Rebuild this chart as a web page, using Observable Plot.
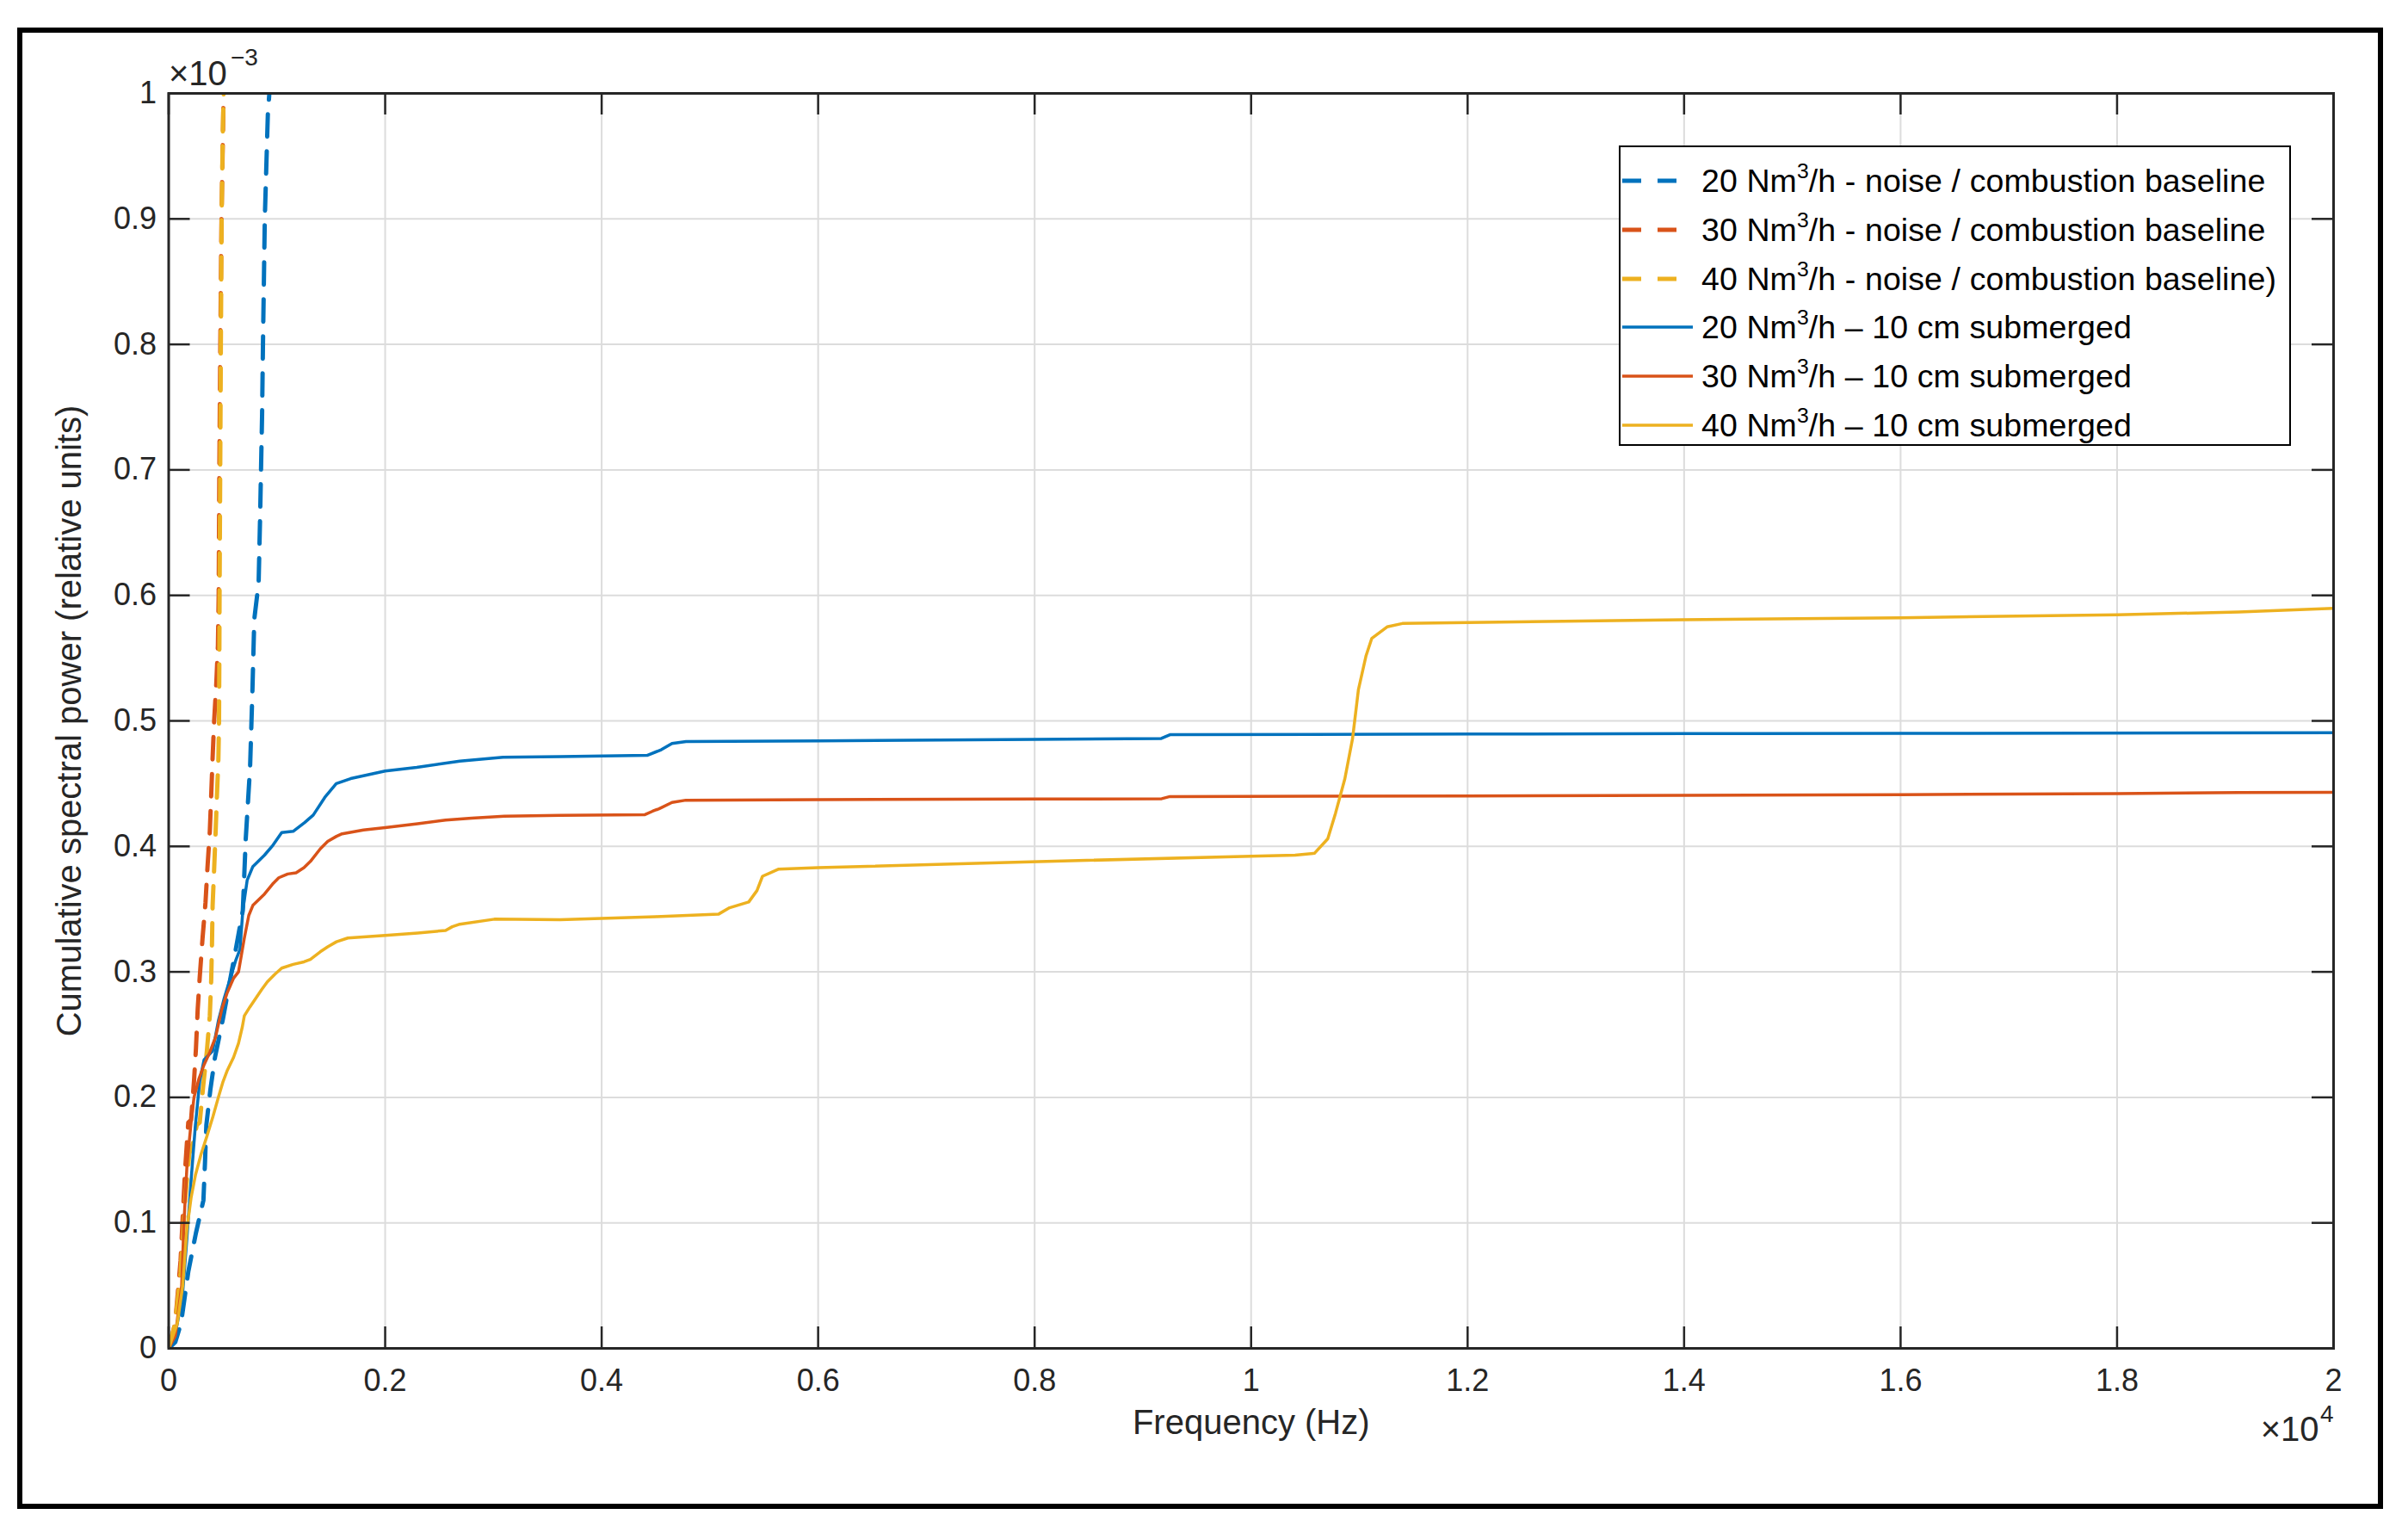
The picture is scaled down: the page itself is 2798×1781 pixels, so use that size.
<!DOCTYPE html>
<html>
<head>
<meta charset="utf-8">
<script src="https://cdn.jsdelivr.net/npm/d3@7"></script>
<script src="https://cdn.jsdelivr.net/npm/@observablehq/plot@0.6"></script>
<style>
  body { margin: 0; background: #fff; }
  #wrap { position: relative; width: 2798px; height: 1781px; font-family: "Liberation Sans", Arial, Helvetica, sans-serif; }
  #wrap svg { position: absolute; left: 0; top: 0; }
  #frame { position: absolute; left: 20px; top: 32px; width: 2749px; height: 1721px; box-sizing: border-box; border: 6px solid #000; pointer-events: none; }
  #legend { position: absolute; left: 1881px; top: 169px; width: 781px; height: 349px; box-sizing: border-box; border: 2.5px solid #000; background: #fff; }
  .row { position: absolute; left: 0; width: 100%; height: 56px; }
  .row svg { position: absolute; left: 8px; top: 0; }
  .row .lab { position: absolute; left: 94px; top: 0; line-height: 56px; font-size: 37.5px; letter-spacing: 0.1px; color: #000; white-space: nowrap; }
  .row sup { font-size: 0.66em; line-height: 0; vertical-align: 0.64em; }
</style>
</head>
<body>
<div id="wrap"><div id="frame"></div></div>
<script>
// ---- tick values and labels ----
const xTicks = [0, 2000, 4000, 6000, 8000, 10000, 12000, 14000, 16000, 18000, 20000];
const xTickLabels = ["0", "0.2", "0.4", "0.6", "0.8", "1", "1.2", "1.4", "1.6", "1.8", "2"];
const yTicks = [0, 0.1, 0.2, 0.3, 0.4, 0.5, 0.6, 0.7, 0.8, 0.9, 1];
const yTickLabels = ["0", "0.1", "0.2", "0.3", "0.4", "0.5", "0.6", "0.7", "0.8", "0.9", "1"];

// ---- series (values in units of 1e-3) ----
const seriesNames = [
  "20 Nm<sup>3</sup>/h - noise / combustion baseline",
  "30 Nm<sup>3</sup>/h - noise / combustion baseline",
  "40 Nm<sup>3</sup>/h - noise / combustion baseline)",
  "20 Nm<sup>3</sup>/h – 10 cm submerged",
  "30 Nm<sup>3</sup>/h – 10 cm submerged",
  "40 Nm<sup>3</sup>/h – 10 cm submerged"
];
const seriesColors = ["#0072BD", "#D95319", "#EDB120", "#0072BD", "#D95319", "#EDB120"];
const seriesDashed = [true, true, true, false, false, false];

const freq20base = [0, 61, 114, 181, 252, 321, 335, 348, 385, 428, 500, 560, 620, 685, 712, 752, 773, 791, 831, 845, 863, 871, 888, 916, 930];
const val20base  = [0, 0.005, 0.02, 0.061, 0.092, 0.118, 0.147, 0.178, 0.206, 0.232, 0.262, 0.29, 0.318, 0.349, 0.406, 0.463, 0.522, 0.581, 0.61, 0.664, 0.744, 0.8, 0.9, 0.983, 1.0];

const freq30base = [0, 60, 110, 150, 181, 207, 234, 252, 268, 287, 313, 340, 359, 380, 393, 406, 420, 440, 455, 462, 468, 477, 488, 502, 507];
const val30base  = [0, 0.02, 0.07, 0.14, 0.18, 0.182, 0.213, 0.239, 0.27, 0.296, 0.327, 0.355, 0.384, 0.412, 0.441, 0.471, 0.5, 0.53, 0.56, 0.6, 0.7, 0.8, 0.9, 0.97, 1.0];

const freq40base = [0, 60, 110, 154, 190, 230, 260, 287, 320, 353, 380, 393, 400, 406, 420, 433, 446, 459, 465, 468, 470, 476, 482, 489, 500, 508];
const val40base  = [0, 0.02, 0.06, 0.12, 0.155, 0.165, 0.178, 0.18, 0.21, 0.237, 0.265, 0.294, 0.322, 0.353, 0.382, 0.41, 0.441, 0.469, 0.498, 0.55, 0.6, 0.7, 0.8, 0.9, 0.97, 1.0];

const freq20sub = [0, 61, 127, 167, 207, 247, 287, 327, 406, 459, 513, 566, 619, 659, 685, 725, 778, 885, 964, 1044, 1150, 1256, 1336, 1442, 1548, 1681, 2000, 2292, 2690, 3089, 3620, 4420, 4550, 4650, 4780, 6000, 8000, 9170, 9250, 12000, 14000, 16000, 20000];
const val20sub  = [0, 0.011, 0.042, 0.086, 0.134, 0.178, 0.213, 0.23, 0.237, 0.261, 0.279, 0.294, 0.309, 0.318, 0.349, 0.373, 0.384, 0.393, 0.401, 0.411, 0.412, 0.419, 0.425, 0.439, 0.45, 0.454, 0.46, 0.463, 0.468, 0.471, 0.4715, 0.4725, 0.477, 0.482, 0.4836, 0.484, 0.4852, 0.486, 0.489, 0.4895, 0.4899, 0.49, 0.4905];

const freq30sub = [0, 61, 120, 141, 170, 207, 234, 280, 327, 380, 433, 490, 539, 600, 645, 699, 740, 778, 885, 960, 1017, 1100, 1177, 1250, 1309, 1400, 1469, 1550, 1602, 1800, 2000, 2300, 2558, 2800, 3100, 3616, 4400, 4470, 4530, 4650, 4778, 6000, 8000, 9174, 9250, 12000, 14000, 16000, 18000, 19124, 20000];
const val30sub  = [0, 0.01, 0.05, 0.1, 0.147, 0.18, 0.2, 0.215, 0.226, 0.236, 0.248, 0.27, 0.283, 0.295, 0.3, 0.327, 0.345, 0.353, 0.362, 0.37, 0.375, 0.378, 0.379, 0.383, 0.388, 0.398, 0.404, 0.408, 0.41, 0.413, 0.415, 0.418, 0.421, 0.4225, 0.424, 0.4247, 0.4253, 0.428, 0.43, 0.435, 0.4368, 0.4372, 0.4377, 0.438, 0.4397, 0.4402, 0.4406, 0.4412, 0.442, 0.4429, 0.4431];

const freq40sub = [0, 80, 130, 167, 207, 247, 300, 353, 410, 459, 500, 539, 600, 645, 680, 699, 750, 805, 860, 911, 980, 1044, 1150, 1250, 1309, 1400, 1469, 1550, 1655, 2000, 2300, 2558, 2620, 2690, 3009, 3616, 4500, 5082, 5182, 5359, 5435, 5486, 5636, 6000, 7962, 10000, 10406, 10585, 10708, 10780, 10866, 10937, 10991, 11062, 11115, 11256, 11397, 12000, 13980, 16000, 18000, 19124, 20000];
const val40sub  = [0, 0.02, 0.05, 0.094, 0.12, 0.138, 0.155, 0.169, 0.185, 0.2, 0.212, 0.221, 0.232, 0.243, 0.256, 0.265, 0.272, 0.279, 0.286, 0.292, 0.298, 0.303, 0.306, 0.308, 0.31, 0.316, 0.32, 0.324, 0.327, 0.329, 0.331, 0.333, 0.336, 0.338, 0.342, 0.3416, 0.344, 0.3461, 0.3511, 0.3557, 0.3648, 0.3762, 0.3819, 0.383, 0.3877, 0.3922, 0.393, 0.3945, 0.406, 0.4265, 0.4539, 0.4858, 0.5247, 0.552, 0.5658, 0.5749, 0.5776, 0.5783, 0.5806, 0.5822, 0.5845, 0.5868, 0.5897];

const seriesFreq = [freq20base, freq30base, freq40base, freq20sub, freq30sub, freq40sub];
const seriesVal  = [val20base, val30base, val40base, val20sub, val30sub, val40sub];

// ---- layout ----
const W = 2798, H = 1781;
const mL = 195.5, mR = 87, mT = 108, mB = 215;
const plotW = W - mL - mR, plotH = H - mT - mB;
const tickLen = 25;
const ink = "#262626";

const lineMarks = seriesFreq.map((fs, i) => {
  const data = fs.map((f, j) => ({f, v: seriesVal[i][j]}));
  return Plot.line(data, {
    x: "f", y: "v",
    stroke: seriesColors[i],
    strokeWidth: seriesDashed[i] ? 5 : 3.5,
    strokeDasharray: seriesDashed[i] ? "26,17" : null,
    clip: true
  });
});

const chart = Plot.plot({
  width: W, height: H,
  marginLeft: mL, marginRight: mR, marginTop: mT, marginBottom: mB,
  style: {fontFamily: '"Liberation Sans", Arial, Helvetica, sans-serif', fontSize: "36px", color: ink, background: "transparent", overflow: "visible"},
  x: {domain: [0, 20000]},
  y: {domain: [0, 1]},
  marks: [
    Plot.gridX(xTicks, {stroke: "#dcdcdc", strokeOpacity: 1, strokeWidth: 2}),
    Plot.gridY(yTicks, {stroke: "#dcdcdc", strokeOpacity: 1, strokeWidth: 2}),
    ...lineMarks,
    Plot.tickX(xTicks, {x: d => d, stroke: ink, strokeWidth: 2.5, insetTop: plotH - tickLen}),
    Plot.tickX(xTicks, {x: d => d, stroke: ink, strokeWidth: 2.5, insetBottom: plotH - tickLen}),
    Plot.tickY(yTicks, {y: d => d, stroke: ink, strokeWidth: 2.5, insetRight: plotW - tickLen}),
    Plot.tickY(yTicks, {y: d => d, stroke: ink, strokeWidth: 2.5, insetLeft: plotW - tickLen}),
    Plot.frame({stroke: ink, strokeWidth: 3}),
    Plot.axisX(xTicks, {tickSize: 0, tickPadding: 24, fontSize: 36, fill: ink, label: null,
      tickFormat: (d) => xTickLabels[xTicks.indexOf(d)]}),
    Plot.axisY(yTicks, {tickSize: 0, tickPadding: 14, fontSize: 36, fill: ink, label: null,
      tickFormat: (d) => yTickLabels[yTicks.indexOf(d)]}),
    Plot.text(["Frequency (Hz)"], {frameAnchor: "bottom", dy: 87, lineAnchor: "middle", fontSize: 40, fill: ink}),
    Plot.text(["Cumulative spectral power (relative units)"], {frameAnchor: "left", rotate: -90, dx: -115, lineAnchor: "middle", textAnchor: "middle", fontSize: 40, fill: ink}),
    Plot.text(["×10"], {frameAnchor: "top-left", textAnchor: "start", lineAnchor: "middle", dx: 0, dy: -22, fontSize: 40, fill: ink}),
    Plot.text(["−3"], {frameAnchor: "top-left", textAnchor: "start", lineAnchor: "middle", dx: 72, dy: -41, fontSize: 28, fill: ink}),
    Plot.text(["×10"], {frameAnchor: "bottom-right", textAnchor: "end", lineAnchor: "middle", dx: -17, dy: 95, fontSize: 40, fill: ink}),
    Plot.text(["4"], {frameAnchor: "bottom-right", textAnchor: "end", lineAnchor: "middle", dx: 0, dy: 77, fontSize: 28, fill: ink})
  ]
});

const wrap = document.getElementById("wrap");
wrap.insertBefore(chart, wrap.firstChild);

// ---- legend ----
const legend = document.createElement("div");
legend.id = "legend";
seriesNames.forEach((name, i) => {
  const row = document.createElement("div");
  row.className = "row";
  row.style.top = (11 + i * 56.8) + "px";
  const dash = seriesDashed[i] ? 'stroke-dasharray="22,19"' : "";
  row.innerHTML = `<svg width="84" height="56"><line x1="2" x2="${seriesDashed[i] ? 66 : 84}" y1="28" y2="28" stroke="${seriesColors[i]}" stroke-width="${seriesDashed[i] ? 5 : 3.5}" ${dash}/></svg><span class="lab">${name}</span>`;
  legend.appendChild(row);
});
wrap.appendChild(legend);
</script>
</body>
</html>
